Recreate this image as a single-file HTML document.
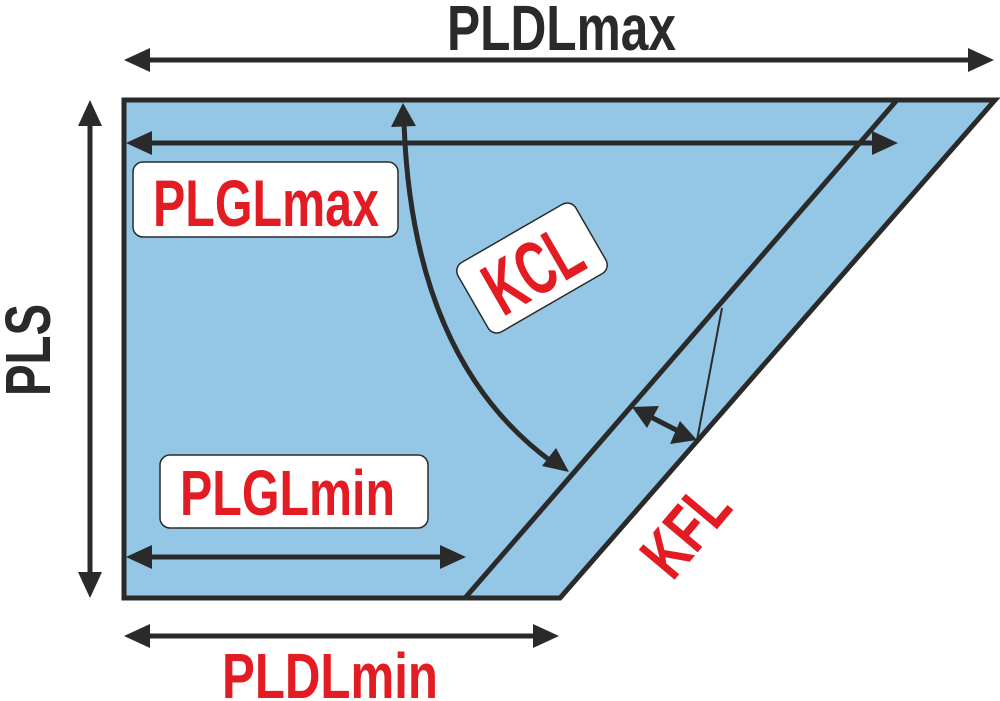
<!DOCTYPE html>
<html><head><style>html,body{margin:0;padding:0;background:#fff;}svg{display:block}</style></head>
<body>
<svg width="1000" height="701" viewBox="0 0 1000 701" xmlns="http://www.w3.org/2000/svg">
<polygon points="124,100 995,100 560,598 124,598" fill="#93c7e5" stroke="#2a2a2a" stroke-width="5" stroke-linejoin="miter"/>
<line x1="897" y1="100" x2="465" y2="598" stroke="#2a2a2a" stroke-width="5"/>
<line x1="722" y1="308" x2="697" y2="440" stroke="#2a2a2a" stroke-width="2"/>
<g stroke="#2a2a2a" stroke-width="5" fill="none">
<line x1="140" y1="60" x2="978" y2="60"/>
<line x1="142" y1="143" x2="880" y2="143"/>
<line x1="90" y1="118" x2="90" y2="580"/>
<line x1="142" y1="557" x2="448" y2="557"/>
<line x1="140" y1="636" x2="542" y2="636"/>
<path d="M404,122 Q412,360 552,462"/>
<line x1="645" y1="414" x2="684" y2="434"/>
</g>
<g fill="#2a2a2a">
<polygon points="124,60 150,48 150,72"/>
<polygon points="994,60 968,48 968,72"/>
<polygon points="126,143 152,131 152,155"/>
<polygon points="898,143 872,131 872,155"/>
<polygon points="90,100 78,126 102,126"/>
<polygon points="90,598 78,572 102,572"/>
<polygon points="126,557 152,545 152,569"/>
<polygon points="466,557 440,545 440,569"/>
<polygon points="124,636 150,624 150,648"/>
<polygon points="559,636 533,624 533,648"/>
<polygon points="403,103 391,127 416,126"/>
<polygon points="569,472 542,466 556,448"/>
<polygon points="632,407 659,406 647,428"/>
<polygon points="697,440 670,444 680,421"/>
</g>
<g font-family="'Liberation Sans Narrow','Liberation Sans',sans-serif" font-weight="bold">
<text x="447" y="50" font-size="64" fill="#2a2a2a" textLength="229" lengthAdjust="spacingAndGlyphs">PLDLmax</text>
<text x="222" y="698" font-size="64" fill="#e31b23" textLength="216" lengthAdjust="spacingAndGlyphs">PLDLmin</text>
<text transform="translate(50,396) rotate(-90)" x="0" y="0" font-size="64" fill="#2a2a2a" textLength="92" lengthAdjust="spacingAndGlyphs">PLS</text>
<rect x="133" y="162" width="265" height="75" rx="10" fill="#fff" stroke="#2a2a2a" stroke-width="1.5"/>
<text x="153" y="226" font-size="66" fill="#e31b23" textLength="226" lengthAdjust="spacingAndGlyphs">PLGLmax</text>
<rect x="160" y="455" width="268" height="73" rx="10" fill="#fff" stroke="#2a2a2a" stroke-width="1.5"/>
<text x="180" y="515" font-size="64" fill="#e31b23" textLength="215" lengthAdjust="spacingAndGlyphs">PLGLmin</text>
<g transform="translate(532,268) rotate(-30)">
<rect x="-68" y="-40" width="136" height="80" rx="10" fill="#fff" stroke="#2a2a2a" stroke-width="1.5"/>
<text x="-50" y="28" font-size="76" fill="#e31b23" textLength="100" lengthAdjust="spacingAndGlyphs">KCL</text>
</g>
<text transform="translate(685,530) rotate(-50)" x="-48" y="24" font-size="68" fill="#e31b23" textLength="96" lengthAdjust="spacingAndGlyphs">KFL</text>
</g>
</svg>
</body></html>
